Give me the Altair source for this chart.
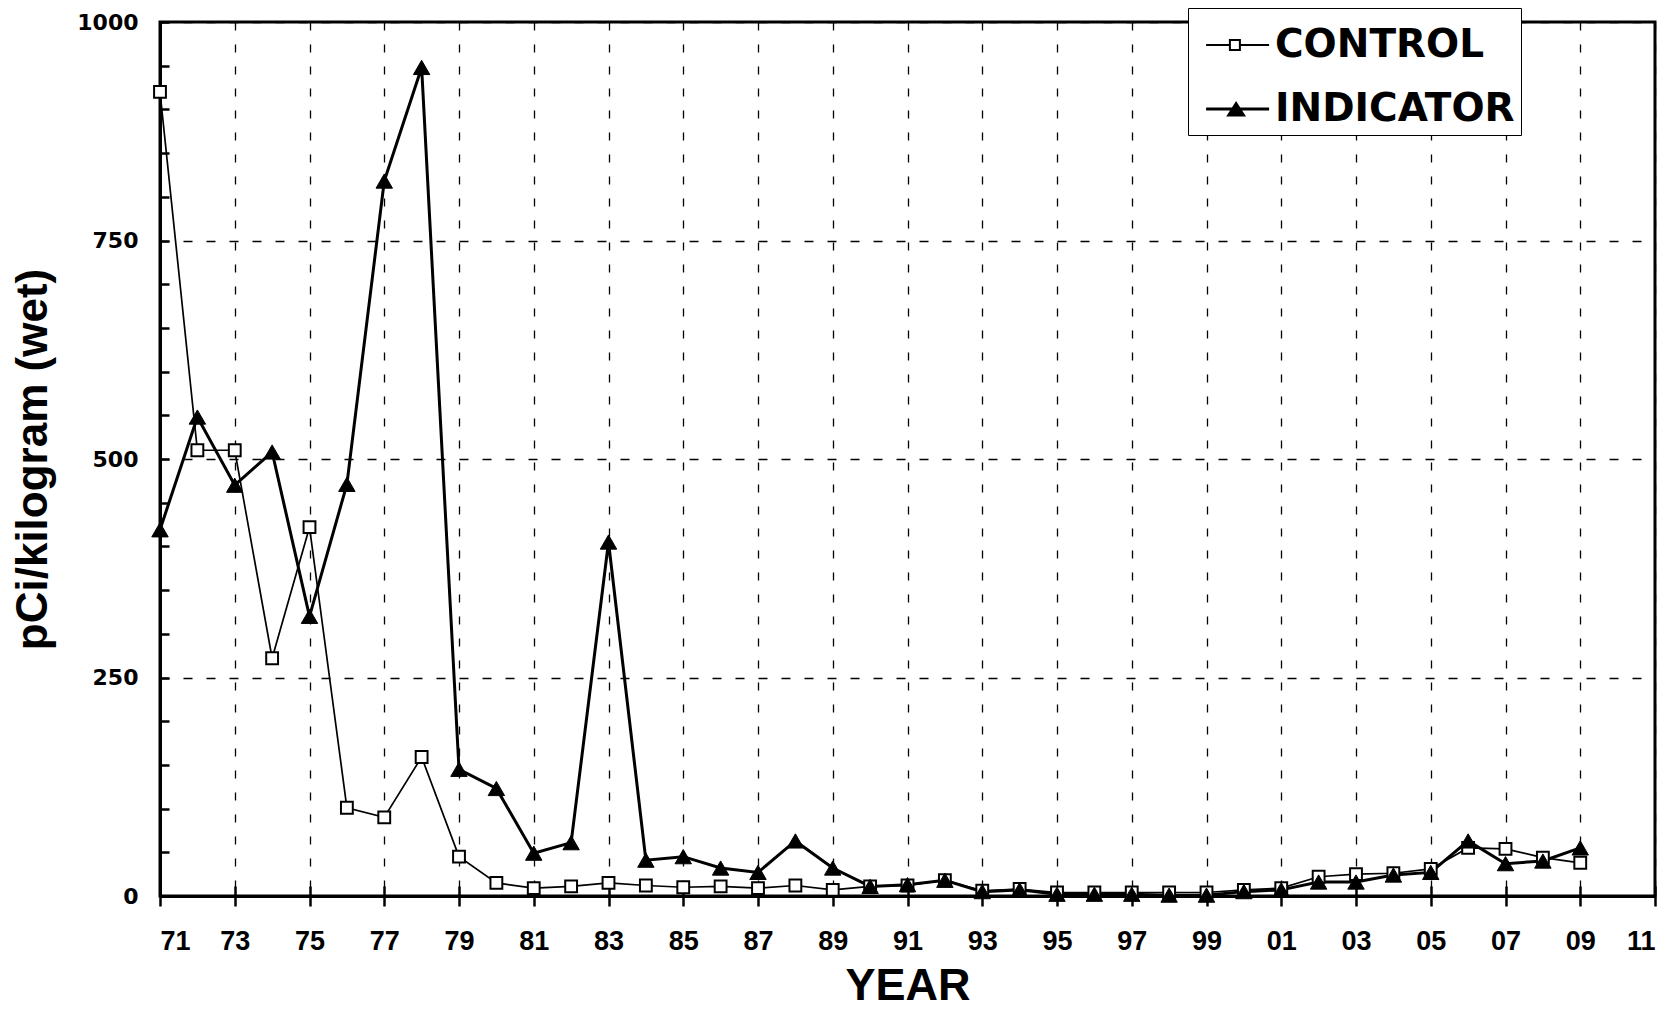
import altair as alt
import pandas as pd

years = list(range(1971, 2010))
control = [920, 510, 510, 272, 422, 101, 90, 159, 45, 15,
           9, 11, 15, 12, 10, 11, 9, 12, 7, 11,
           12, 18, 6, 8, 4, 4, 4, 4, 4, 7,
           9, 22, 25, 26, 31, 55, 54, 44, 38]
indicator = [419, 548, 470, 508, 320, 471, 818, 948, 145, 123,
             49, 61, 405, 41, 45, 32, 27, 63, 32, 11,
             13, 18, 5, 7, 2, 2, 2, 1, 1, 5,
             7, 16, 16, 24, 27, 63, 37, 40, 55]
series_names = ["CONTROL", "INDICATOR"]
x_ticks = list(range(1971, 2012, 2))
y_labels = [0, 250, 500, 750, 1000]
y_minor = list(range(0, 1001, 50))

rows = []
for y, c, i in zip(years, control, indicator):
    rows.append({"year": y, "value": c, "series": "CONTROL", "sw": 1.7})
    rows.append({"year": y, "value": i, "series": "INDICATOR", "sw": 3.0})
df = pd.DataFrame(rows)

W, H = 1495, 874
xscale = alt.Scale(domain=[1971, 2011], nice=False, zero=False)
yscale = alt.Scale(domain=[0, 1000], nice=False)

font = "Liberation Sans"

base = alt.Chart(df)

lines = base.mark_line(color="black").encode(
    x=alt.X("year:Q", scale=xscale, title="YEAR",
            axis=alt.Axis(orient="bottom", values=x_ticks,
                          labelExpr="substring(toString(datum.value), 2, 4)",
                          labelFont=font, labelFontWeight="bold", labelFontSize=27,
                          labelColor="black", labelPadding=22,
                          tickSize=10, tickColor="black", tickWidth=2.5,
                          domainColor="black", domainWidth=3,
                          grid=True, gridColor="black", gridDash=[8, 14], gridWidth=1.3,
                          gridOpacity=1,
                          titleFont=font, titleFontWeight="bold", titleFontSize=45,
                          titleColor="black", titlePadding=9)),
    y=alt.Y("value:Q", scale=yscale, title="pCi/kilogram (wet)",
            axis=alt.Axis(orient="left", values=y_labels, format="d",
                          labelFont="DejaVu Sans", labelFontWeight="bold", labelFontSize=22,
                          labelColor="black", labelPadding=22,
                          tickSize=0, domainColor="black", domainWidth=3,
                          grid=True, gridColor="black", gridDash=[9, 14], gridWidth=1.3,
                          gridOpacity=1,
                          titleFont=font, titleFontWeight="bold", titleFontSize=44,
                          titleColor="black", titlePadding=21)),
    detail="series:N",
    strokeWidth=alt.StrokeWidth("sw:Q", scale=None, legend=None),
)

points_c = base.transform_filter(alt.datum.series == "CONTROL").mark_point(
    shape="square", filled=True, fill="white", stroke="black", strokeWidth=2, size=140,
    opacity=1
).encode(
    x=alt.X("year:Q", scale=xscale, title=None,
            axis=alt.Axis(orient="top", offset=-H, values=x_ticks, labels=False,
                          tickSize=10, tickColor="black", tickWidth=2.5,
                          domain=False, grid=False)),
    y=alt.Y("value:Q", scale=yscale, title=None,
            axis=alt.Axis(orient="right", offset=-W, values=y_minor, labels=False,
                          tickSize=9, tickColor="black", tickWidth=2.5,
                          domain=False, grid=False)),
)

points_i = base.transform_filter(alt.datum.series == "INDICATOR").mark_point(
    shape="triangle-up", filled=True, fill="black", stroke="black", strokeWidth=1, size=270,
    opacity=1
).encode(
    x=alt.X("year:Q", scale=xscale, axis=None),
    y=alt.Y("value:Q", scale=yscale, axis=None),
)

# legend symbols as filled outlines (line stubs + hollow square / filled triangle)
path_control = ("M-0.63,-0.033H0.13V0.033H-0.63Z"
                "M0.53,-0.033H1.47V0.033H0.53Z"
                "M0.13,-0.2H0.53V0.2H0.13Z"
                "M0.197,-0.133V0.133H0.463V-0.133Z")
path_indicator = ("M-0.63,-0.05H1.47V0.05H-0.63Z"
                  "M0.04,0.25L0.37,-0.27L0.7,0.25Z")
leg = alt.Legend(title=None, orient="none", legendX=1028, legendY=-14,
                 labelFont="DejaVu Sans", labelFontWeight="bold", labelFontSize=39,
                 labelColor="black", labelOffset=19, labelLimit=600,
                 symbolSize=3600, symbolOpacity=1,
                 strokeColor="black", fillColor="white", padding=6, rowPadding=13,
                 labelBaseline="middle")

# legend-only layer: no rows survive the filter, the legend comes from the fixed scale domain
legend_layer = base.transform_filter(alt.datum.year < 0).mark_point(
    filled=True, color="black", opacity=1, size=3600
).encode(
    x=alt.X("year:Q", scale=xscale, axis=None),
    y=alt.Y("value:Q", scale=yscale, axis=None),
    shape=alt.Shape("series:N", scale=alt.Scale(domain=series_names,
                                               range=[path_control, path_indicator]),
                    legend=leg),
)

chart = alt.layer(lines, points_c, points_i, legend_layer).resolve_axis(
    x="independent", y="independent"
).properties(
    width=W, height=H,
    autosize=alt.AutoSizeParams(type="none"),
    padding={"left": 152, "top": 14, "right": 10, "bottom": 117},
    background="white",
).configure_view(stroke="black", strokeWidth=3)

chart.save("out.html", embed_options={"renderer": "svg", "actions": False})
